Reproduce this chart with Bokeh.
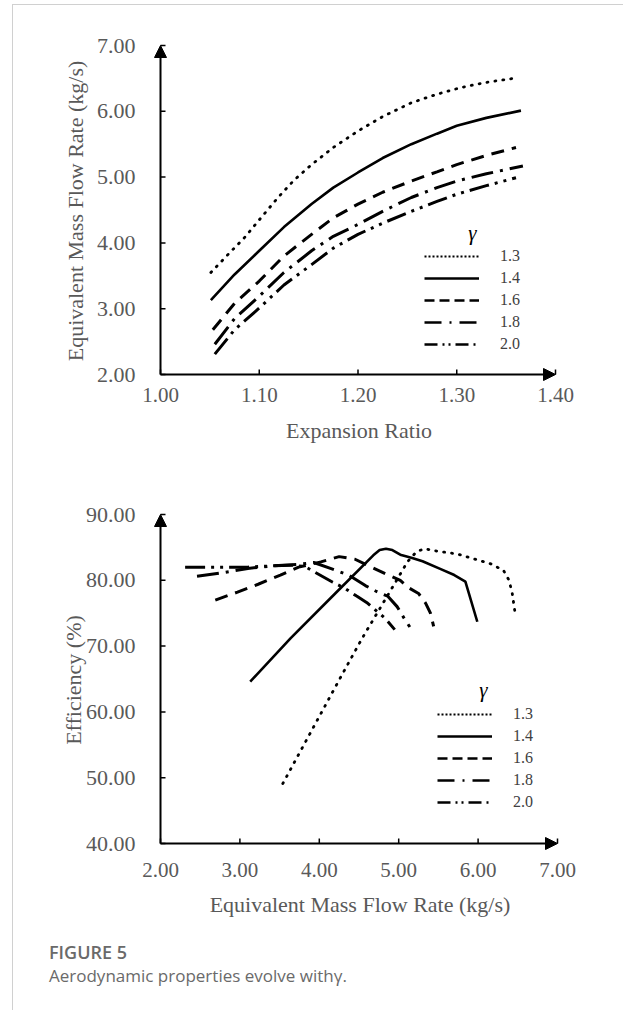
from bokeh.plotting import figure
from bokeh.models import (Range1d, FixedTicker, PrintfTickFormatter, Arrow, NormalHead,
                          Legend, LegendItem, Label, Div)
from bokeh.layouts import column
from bokeh.embed import file_html
from bokeh.resources import INLINE

# ---------------- data ----------------
GAMMA_LABELS = ["1.3", "1.4", "1.6", "1.8", "2.0"]

# Top chart: expansion ratio vs equivalent mass flow rate (kg/s)
ER_13 = [1.051, 1.070, 1.085, 1.100, 1.119, 1.135, 1.153, 1.175, 1.200, 1.225, 1.254, 1.280, 1.304, 1.330, 1.362]
MF_13 = [3.55, 3.85, 4.08, 4.35, 4.69, 4.95, 5.19, 5.45, 5.70, 5.92, 6.13, 6.26, 6.36, 6.44, 6.51]
ER_14 = [1.051, 1.075, 1.100, 1.125, 1.153, 1.175, 1.200, 1.225, 1.254, 1.280, 1.300, 1.330, 1.365]
MF_14 = [3.13, 3.52, 3.88, 4.24, 4.59, 4.84, 5.07, 5.29, 5.50, 5.66, 5.78, 5.90, 6.01]
ER_16 = [1.053, 1.075, 1.100, 1.125, 1.153, 1.175, 1.200, 1.225, 1.254, 1.280, 1.300, 1.330, 1.360]
MF_16 = [2.68, 3.08, 3.42, 3.80, 4.13, 4.38, 4.59, 4.77, 4.94, 5.08, 5.19, 5.33, 5.45]
ER_18 = [1.055, 1.075, 1.100, 1.125, 1.153, 1.175, 1.200, 1.225, 1.254, 1.280, 1.300, 1.330, 1.367]
MF_18 = [2.46, 2.85, 3.19, 3.55, 3.88, 4.10, 4.28, 4.48, 4.69, 4.84, 4.94, 5.05, 5.17]
ER_20 = [1.055, 1.075, 1.100, 1.125, 1.153, 1.175, 1.200, 1.225, 1.254, 1.280, 1.300, 1.330, 1.360]
MF_20 = [2.31, 2.68, 3.01, 3.36, 3.67, 3.92, 4.13, 4.30, 4.48, 4.63, 4.74, 4.87, 4.99]

# Bottom chart: equivalent mass flow rate (kg/s) vs efficiency (%)
MFB_13 = [3.54, 4.27, 4.54, 4.90, 5.11, 5.22, 5.32, 5.50, 5.74, 5.99, 6.16, 6.32, 6.39, 6.43, 6.47]
EFF_13 = [49.1, 65.3, 71.2, 78.5, 82.8, 84.3, 84.8, 84.4, 84.0, 83.1, 82.5, 81.5, 80.0, 78.0, 74.7]
MFB_14 = [3.13, 3.64, 4.20, 4.68, 4.76, 4.84, 4.92, 5.02, 5.17, 5.30, 5.53, 5.70, 5.84, 5.99]
EFF_14 = [64.6, 71.2, 78.0, 83.8, 84.6, 84.8, 84.6, 83.9, 83.4, 82.9, 81.7, 80.8, 79.8, 73.7]
MFB_16 = [2.69, 2.97, 3.23, 3.51, 3.74, 4.02, 4.25, 4.45, 4.62, 4.87, 5.02, 5.12, 5.25, 5.34, 5.40, 5.44]
EFF_16 = [77.0, 78.2, 79.4, 80.8, 82.0, 82.8, 83.6, 83.2, 82.2, 80.8, 80.0, 78.9, 78.0, 76.5, 75.0, 73.0]
MFB_18 = [2.46, 2.76, 3.10, 3.42, 3.72, 3.93, 4.14, 4.37, 4.58, 4.72, 4.86, 4.98, 5.06, 5.14]
EFF_18 = [80.6, 81.1, 81.8, 82.2, 82.4, 82.7, 81.8, 80.8, 79.2, 78.3, 77.6, 76.0, 74.4, 72.9]
MFB_20 = [2.31, 2.80, 3.10, 3.42, 3.65, 3.82, 3.95, 4.17, 4.32, 4.47, 4.61, 4.83, 4.95]
EFF_20 = [82.0, 82.0, 82.0, 82.2, 82.3, 82.1, 81.2, 79.7, 78.8, 77.6, 76.5, 74.2, 72.5]

TOP_X_TICKS = [1.0, 1.1, 1.2, 1.3, 1.4]
TOP_Y_TICKS = [2.0, 3.0, 4.0, 5.0, 6.0, 7.0]
BOT_X_TICKS = [2.0, 3.0, 4.0, 5.0, 6.0, 7.0]
BOT_Y_TICKS = [40.0, 50.0, 60.0, 70.0, 80.0, 90.0]

TOP_SERIES = [(ER_13, MF_13), (ER_14, MF_14), (ER_16, MF_16), (ER_18, MF_18), (ER_20, MF_20)]
BOT_SERIES = [(MFB_13, EFF_13), (MFB_14, EFF_14), (MFB_16, EFF_16), (MFB_18, EFF_18), (MFB_20, EFF_20)]

# ---------------- styles ----------------
SERIF = "Liberation Serif"
TICK_COLOR = "#595959"
NAN2 = [float("nan"), float("nan")]
LINE_STYLES = [
    dict(line_dash="1 7", line_cap="round", line_width=2.8),
    dict(line_dash="solid", line_width=2.6),
    dict(line_dash="13 8", line_width=3.0),
    dict(line_dash="22 7 3 7", line_width=3.0),
    dict(line_dash="20 6 3 6 3 6", line_width=3.0),
]
LEGEND_STYLES = [
    dict(line_dash="2 2", line_width=2.0),
    dict(line_dash="solid", line_width=2.6),
    dict(line_dash="10 5", line_width=2.6),
    dict(line_dash="17 8 2 8", line_width=2.6),
    dict(line_dash="13 5 2 4 2 5", line_width=2.6),
]
PAD_L, PAD_B, PAD_R, PAD_T = 10, 10, 12, 8
TICK_LEN = 5


def make_chart(series, xticks, yticks, xlabel, ylabel, border_left, border_top, frame,
               legend_loc, gamma_pos, ystand, ylab_stand, xstand, xlab_stand, total_w, total_h):
    x0, x1 = xticks[0], xticks[-1]
    y0, y1 = yticks[0], yticks[-1]
    fw, fh = frame
    sx = (fw - PAD_L - PAD_R) / (x1 - x0)   # px per data unit
    sy = (fh - PAD_B - PAD_T) / (y1 - y0)
    p = figure(frame_width=fw, frame_height=fh,
               min_border_left=border_left, min_border_right=total_w - border_left - fw,
               min_border_top=border_top, min_border_bottom=total_h - border_top - fh,
               x_range=Range1d(x0 - PAD_L / sx, x1 + PAD_R / sx),
               y_range=Range1d(y0 - PAD_B / sy, y1 + PAD_T / sy),
               output_backend="svg", toolbar_location=None)
    p.outline_line_color = None
    p.grid.visible = False
    p.background_fill_color = "white"
    p.border_fill_color = "white"

    for ax, ticks, fs in ((p.xaxis[0], xticks, "21px"), (p.yaxis[0], yticks, "22px")):
        ax.ticker = FixedTicker(ticks=ticks)
        ax.formatter = PrintfTickFormatter(format="%.2f")
        ax.axis_line_color = None
        ax.major_tick_line_color = None
        ax.major_tick_in = 0
        ax.major_tick_out = 0
        ax.minor_tick_line_color = None
        ax.major_label_text_font = SERIF
        ax.major_label_text_font_size = fs
        ax.major_label_text_color = TICK_COLOR
        ax.axis_label_text_font = SERIF
        ax.axis_label_text_font_size = "22px"
        ax.axis_label_text_font_style = "normal"
        ax.axis_label_text_color = TICK_COLOR
    p.xaxis[0].axis_label = xlabel
    p.yaxis[0].axis_label = ylabel
    p.yaxis[0].major_label_standoff = ystand
    p.yaxis[0].axis_label_standoff = ylab_stand
    p.xaxis[0].major_label_standoff = xstand
    p.xaxis[0].axis_label_standoff = xlab_stand

    # tick marks pointing inward
    p.segment(x0=xticks, y0=[y0] * len(xticks), x1=xticks, y1=[y0 + TICK_LEN / sy] * len(xticks),
              line_color="black", line_width=1.5)
    p.segment(x0=[x0] * len(yticks), y0=yticks, x1=[x0 + TICK_LEN / sx] * len(yticks), y1=yticks,
              line_color="black", line_width=1.5)

    # axes with arrow heads
    for xe, ye in ((x1, y0), (x0, y1)):
        p.add_layout(Arrow(end=NormalHead(size=12, fill_color="black", line_color="black", line_width=1),
                           x_start=x0, y_start=y0, x_end=xe, y_end=ye, line_width=2, line_color="black"))

    items = []
    for (xs, ys), st, lst, lab in zip(series, LINE_STYLES, LEGEND_STYLES, GAMMA_LABELS):
        p.line(xs, ys, line_color="black", **st)
        lr = p.line(x=NAN2, y=NAN2, line_color="black", **lst)
        items.append(LegendItem(label=lab, renderers=[lr]))

    legend = Legend(items=items, location=legend_loc, glyph_width=55, glyph_height=20,
                    label_height=20, label_standoff=21, spacing=2, padding=0, margin=0,
                    border_line_alpha=0, background_fill_alpha=0,
                    label_text_font=SERIF, label_text_font_size="16px", label_text_color="#404040")
    p.add_layout(legend)
    p.add_layout(Label(x=gamma_pos[0], y=gamma_pos[1], x_units="screen", y_units="screen",
                       text="γ", text_font=SERIF, text_font_style="italic", text_font_size="21px",
                       text_color="black", text_align="center", text_baseline="middle"))
    return p


p1 = make_chart(TOP_SERIES, TOP_X_TICKS, TOP_Y_TICKS,
                "Expansion Ratio", "Equivalent Mass Flow Rate (kg/s)",
                border_left=133, border_top=32, frame=(417, 347),
                legend_loc=(274, 30), gamma_pos=(322, 152),
                ystand=15, ylab_stand=6, xstand=3, xlab_stand=13, total_w=610, total_h=440)

p2 = make_chart(BOT_SERIES, BOT_X_TICKS, BOT_Y_TICKS,
                "Equivalent Mass Flow Rate (kg/s)", "Efficiency (%)",
                border_left=137, border_top=61, frame=(419, 347),
                legend_loc=(287, 41), gamma_pos=(333, 164),
                ystand=15, ylab_stand=-3, xstand=9, xlab_stand=12, total_w=610, total_h=476)

cap = Div(text=('<div style="font-family:\'Open Sans\';font-weight:600;font-size:18px;'
                'color:#6a6a6a;line-height:24px;">FIGURE 5</div>'
                '<div style="font-family:\'Open Sans\';font-size:17px;color:#6a6a6a;'
                'line-height:24px;">Aerodynamic properties evolve with\u03b3.</div>'),
          width=610, height=89,
          styles={"padding-left": "31px", "padding-top": "14px", "box-sizing": "border-box"})

layout = column(p1, p2, cap,
                styles={"border-left": "1px solid #d0d0d0", "border-top": "1px solid #d0d0d0",
                        "margin-left": "12px", "margin-top": "4px"})

open("out.html", "w").write(file_html(layout, INLINE))
